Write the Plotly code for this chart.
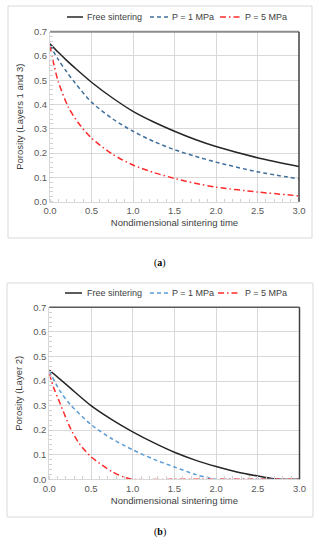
import plotly.graph_objects as go

# ---------------- data ----------------
# Panel (a): Layers 1 and 3
t_a_free = [0, 0.1, 0.2, 0.3, 0.5, 0.75, 1.0, 1.25, 1.5, 1.75, 2.0, 2.5, 3.0]
por_a_free = [0.650, 0.615, 0.582, 0.551, 0.492, 0.428, 0.372, 0.328, 0.290, 0.256, 0.227, 0.181, 0.145]

t_a_p1 = [0, 0.1, 0.2, 0.3, 0.5, 0.75, 1.0, 1.25, 1.5, 1.75, 2.0, 2.5, 3.0]
por_a_p1 = [0.645, 0.585, 0.535, 0.490, 0.410, 0.342, 0.290, 0.248, 0.214, 0.187, 0.163, 0.123, 0.094]

t_a_p5 = [0, 0.05, 0.1, 0.22, 0.34, 0.5, 0.75, 1.0, 1.25, 1.5, 1.75, 2.0, 2.5, 3.0]
por_a_p5 = [0.640, 0.560, 0.494, 0.390, 0.325, 0.262, 0.196, 0.151, 0.120, 0.096, 0.076, 0.060, 0.040, 0.024]

# Panel (b): Layer 2
t_b_free = [0, 0.25, 0.5, 0.75, 1.0, 1.25, 1.5, 1.75, 2.0, 2.25, 2.5, 2.65, 2.75, 3.0]
por_b_free = [0.445, 0.372, 0.300, 0.243, 0.193, 0.149, 0.110, 0.078, 0.052, 0.030, 0.013, 0.004, 0.0, 0.0]

t_b_p1 = [0, 0.13, 0.25, 0.5, 0.75, 1.0, 1.25, 1.5, 1.75, 1.9, 2.0, 2.5, 3.0]
por_b_p1 = [0.440, 0.359, 0.305, 0.223, 0.165, 0.120, 0.082, 0.050, 0.020, 0.006, 0.0, 0.0, 0.0]

t_b_p5 = [0, 0.05, 0.11, 0.25, 0.35, 0.5, 0.75, 0.9, 1.0, 1.5, 2.0, 2.5, 3.0]
por_b_p5 = [0.430, 0.375, 0.325, 0.210, 0.150, 0.092, 0.032, 0.008, 0.0, 0.0, 0.0, 0.0, 0.0]

names = ["Free sintering", "P = 1 MPa", "P = 5 MPa"]
x_ticks = [0.0, 0.5, 1.0, 1.5, 2.0, 2.5, 3.0]
x_tick_text = ["0.0", "0.5", "1.0", "1.5", "2.0", "2.5", "3.0"]
y_ticks = [0.0, 0.1, 0.2, 0.3, 0.4, 0.5, 0.6, 0.7]
y_tick_text = ["0.0", "0.1", "0.2", "0.3", "0.4", "0.5", "0.6", "0.7"]
x_title = "Nondimensional sintering time"
y_title_a = "Porosity (Layers 1 and 3)"
y_title_b = "Porosity (Layer 2)"
panel_labels = ["(<b>a</b>)", "(<b>b</b>)"]

# ---------------- figure ----------------
W, H = 319, 550
FONT = "Liberation Sans, Arial, sans-serif"
TXT = "#595959"
fig = go.Figure()

def px(v):
    return v / W

def py(v):
    return 1 - v / H

c_free = "#262626"
c_p1a = "#41709c"
c_p1b = "#5b9bd5"
c_p5 = "#ff2a2a"
dash_p1 = "4px,3px"
dash_p5 = "6px,3px,1.5px,3px"

def add(t, p, name, color, dash, xa, ya):
    fig.add_trace(go.Scatter(
        x=t, y=p, name=name, mode="lines", showlegend=False,
        line=dict(color=color, width=1.5, dash=dash, shape="spline", smoothing=0.8),
        xaxis=xa, yaxis=ya))

add(t_a_free, por_a_free, names[0], c_free, "solid", "x", "y")
add(t_a_p1, por_a_p1, names[1], c_p1a, dash_p1, "x", "y")
add(t_a_p5, por_a_p5, names[2], c_p5, dash_p5, "x", "y")
add(t_b_free, por_b_free, names[0], c_free, "solid", "x2", "y2")
add(t_b_p1, por_b_p1, names[1], c_p1b, dash_p1, "x2", "y2")
add(t_b_p5, por_b_p5, names[2], c_p5, dash_p5, "x2", "y2")

TF = dict(family=FONT, size=9.5, color="#404040")
xa_common = dict(range=[0, 3], tickvals=x_ticks, ticktext=x_tick_text, automargin=False,
                 showgrid=True, gridcolor="#d9d9d9", gridwidth=1,
                 showline=True, linecolor="#d9d9d9", linewidth=1,
                 ticks="", zeroline=False,
                 minor=dict(dtick=0.1, ticks="inside", ticklen=3, tickcolor="#d0d0d0", showgrid=False),
                 tickfont=dict(family=FONT, size=9.5, color=TXT),
                 title=dict(text=x_title, font=TF, standoff=4))
ya_common = dict(range=[0, 0.7], tickvals=y_ticks, ticktext=y_tick_text, automargin=False,
                 showgrid=True, gridcolor="#d9d9d9", gridwidth=1,
                 showline=True, linecolor="#d9d9d9", linewidth=1,
                 ticks="", zeroline=False,
                 minor=dict(dtick=0.02, ticks="inside", ticklen=3, tickcolor="#d0d0d0", showgrid=False),
                 tickfont=dict(family=FONT, size=9.5, color=TXT))

fig.update_layout(
    width=W, height=H,
    margin=dict(l=0, r=0, t=0, b=0),
    paper_bgcolor="white", plot_bgcolor="white",
    showlegend=False,
    xaxis=dict(domain=[px(50), px(299)], anchor="y", **xa_common),
    yaxis=dict(domain=[py(201.7), py(31.7)], anchor="x",
               title=dict(text=y_title_a, font=TF, standoff=8), **ya_common),
    xaxis2=dict(domain=[px(49.3), px(299.5)], anchor="y2", **xa_common),
    yaxis2=dict(domain=[py(479.3), py(307.3)], anchor="x2",
                title=dict(text=y_title_b, font=TF, standoff=8), **ya_common),
)

shapes = []
# outer chart boxes
shapes.append(dict(type="rect", xref="paper", yref="paper", x0=px(8), x1=px(312), y0=py(238), y1=py(6),
                   line=dict(color="#d9d9d9", width=1), layer="below"))
shapes.append(dict(type="rect", xref="paper", yref="paper", x0=px(7), x1=px(313), y0=py(517), y1=py(283),
                   line=dict(color="#d9d9d9", width=1), layer="below"))
# plot-area top and right borders
shapes.append(dict(type="line", xref="x domain", yref="y domain", x0=0, x1=1, y0=1, y1=1,
                   line=dict(color="#8c8c8c", width=2)))
shapes.append(dict(type="line", xref="x domain", yref="y domain", x0=1, x1=1, y0=0, y1=1,
                   line=dict(color="#404040", width=1.5)))
shapes.append(dict(type="line", xref="x2 domain", yref="y2 domain", x0=0, x1=1, y0=1, y1=1,
                   line=dict(color="#595959", width=1.5)))
shapes.append(dict(type="line", xref="x2 domain", yref="y2 domain", x0=1, x1=1, y0=0, y1=1,
                   line=dict(color="#404040", width=1.5)))

# legends (line sample + label) for both panels
legend_specs = [
    (17, [(67, 83, 85), (150, 168, 170), (220, 240, 243)], [c_free, c_p1a, c_p5]),
    (293, [(65, 82, 85), (150, 168, 170), (218, 240, 243)], [c_free, c_p1b, c_p5]),
]
dashes = ["solid", dash_p1, dash_p5]
for ly, items, cols in legend_specs:
    for (x0, x1, xt), col, dsh, nm in zip(items, cols, dashes, names):
        shapes.append(dict(type="line", xref="paper", yref="paper", x0=px(x0), x1=px(x1),
                           y0=py(ly), y1=py(ly), line=dict(color=col, width=1.5, dash=dsh)))
        fig.add_annotation(xref="paper", yref="paper", x=px(xt), y=py(ly), text=nm,
                           xanchor="left", yanchor="middle", showarrow=False,
                           font=dict(family=FONT, size=9, color="#404040"))
fig.update_layout(shapes=shapes)

for lbl, yy in zip(panel_labels, [263, 540]):
    fig.add_annotation(xref="paper", yref="paper", x=px(160), y=py(yy), text=lbl,
                       showarrow=False, font=dict(family="Liberation Serif, Times New Roman, serif", size=10, color="black"))

fig.write_html("out.html", config={"displayModeBar": False},
               post_script="document.body.style.margin='0px';document.body.style.overflow='hidden';")
